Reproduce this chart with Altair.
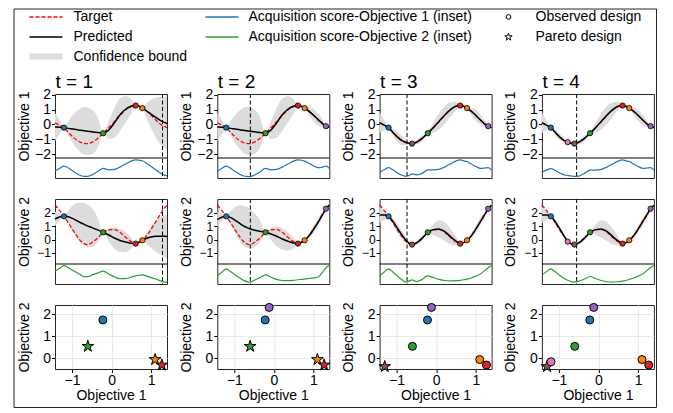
import altair as alt
import pandas as pd

FONT = "Liberation Sans"

# ---------------- data ----------------
design_x = [0.00, 0.04, 0.08, 0.12, 0.16, 0.20, 0.23, 0.26, 0.29, 0.33, 0.38, 0.43, 0.48,
            0.53, 0.58, 0.63, 0.68, 0.72, 0.75, 0.78, 0.82, 0.86, 0.90, 0.94, 0.97, 1.00]

target_obj1 = [0.10, -0.05, -0.22, -0.55, -0.85, -1.10, -1.21, -1.28, -1.30, -1.20, -0.95, -0.60, -0.22,
               0.18, 0.60, 0.97, 1.22, 1.28, 1.22, 1.10, 0.88, 0.60, 0.30, 0.02, -0.12, -0.22]
target_obj2 = [2.60, 2.20, 1.75, 1.25, 0.72, 0.22, -0.10, -0.30, -0.37, -0.22, 0.12, 0.52, 0.74,
               0.76, 0.55, 0.18, -0.15, -0.30, -0.22, -0.05, 0.30, 0.80, 1.35, 1.90, 2.30, 2.58]

pred_obj1_t1 = [-0.18, -0.19, -0.22, -0.27, -0.32, -0.37, -0.40, -0.43, -0.46, -0.50, -0.55, -0.60, -0.38,
                0.10, 0.65, 1.02, 1.22, 1.27, 1.22, 1.10, 0.90, 0.68, 0.47, 0.27, 0.15, 0.06]
band_obj1_t1 = [0.95, 0.50, 0.03, 0.50, 0.95, 1.30, 1.50, 1.60, 1.60, 1.50, 1.05, 0.03, 0.60,
                1.00, 1.10, 0.90, 0.50, 0.03, 0.10, 0.03, 0.55, 1.00, 1.35, 1.60, 1.70, 1.80]
pred_obj1_t2 = [-0.18, -0.19, -0.22, -0.27, -0.32, -0.37, -0.40, -0.43, -0.46, -0.50, -0.55, -0.60, -0.38,
                0.10, 0.65, 1.02, 1.22, 1.27, 1.22, 1.10, 0.88, 0.62, 0.33, 0.05, -0.12, -0.20]
band_obj1_t2 = [0.95, 0.50, 0.03, 0.50, 0.95, 1.30, 1.50, 1.60, 1.60, 1.50, 1.05, 0.03, 0.60,
                1.00, 1.10, 0.90, 0.50, 0.03, 0.10, 0.03, 0.30, 0.42, 0.40, 0.25, 0.03, 0.12]
pred_obj1_t3 = [0.12, -0.05, -0.22, -0.55, -0.86, -1.10, -1.21, -1.28, -1.30, -1.20, -0.95, -0.60, -0.22,
                0.20, 0.62, 0.98, 1.22, 1.27, 1.22, 1.10, 0.88, 0.60, 0.30, 0.02, -0.12, -0.22]
band_obj1_t3 = [0.70, 0.35, 0.03, 0.25, 0.35, 0.30, 0.20, 0.10, 0.03, 0.15, 0.20, 0.03, 0.35,
                0.55, 0.60, 0.50, 0.30, 0.03, 0.08, 0.03, 0.25, 0.38, 0.35, 0.20, 0.03, 0.12]
pred_obj1_t4 = [0.12, -0.05, -0.22, -0.55, -0.86, -1.10, -1.21, -1.28, -1.30, -1.20, -0.95, -0.60, -0.22,
                0.20, 0.62, 0.98, 1.22, 1.27, 1.22, 1.10, 0.88, 0.60, 0.30, 0.02, -0.12, -0.22]
band_obj1_t4 = [0.70, 0.35, 0.03, 0.20, 0.22, 0.10, 0.03, 0.03, 0.03, 0.12, 0.18, 0.03, 0.35,
                0.55, 0.60, 0.50, 0.30, 0.03, 0.08, 0.03, 0.25, 0.38, 0.35, 0.20, 0.03, 0.12]

pred_obj2_t1 = [1.55, 1.70, 1.78, 1.72, 1.58, 1.40, 1.27, 1.15, 1.03, 0.90, 0.73, 0.55, 0.35,
                0.12, -0.06, -0.18, -0.27, -0.30, -0.20, -0.05, 0.10, 0.20, 0.25, 0.26, 0.25, 0.24]
band_obj2_t1 = [0.55, 0.30, 0.03, 0.50, 1.00, 1.35, 1.50, 1.60, 1.60, 1.45, 0.95, 0.03, 0.50,
                0.80, 0.85, 0.75, 0.40, 0.03, 0.08, 0.03, 0.45, 0.85, 1.15, 1.40, 1.55, 1.65]
pred_obj2_t2 = [1.50, 1.68, 1.76, 1.65, 1.45, 1.22, 1.05, 0.92, 0.82, 0.72, 0.63, 0.55, 0.42,
                0.25, 0.05, -0.12, -0.25, -0.30, -0.20, -0.05, 0.30, 0.78, 1.30, 1.88, 2.30, 2.60]
band_obj2_t2 = [0.55, 0.30, 0.03, 0.50, 1.00, 1.35, 1.50, 1.55, 1.50, 1.30, 0.85, 0.03, 0.45,
                0.75, 0.80, 0.70, 0.40, 0.03, 0.08, 0.03, 0.20, 0.28, 0.28, 0.18, 0.03, 0.10]
pred_obj2_t3 = [1.85, 1.85, 1.75, 1.35, 0.85, 0.35, 0.02, -0.25, -0.37, -0.25, 0.10, 0.52, 0.75,
                0.80, 0.62, 0.25, -0.10, -0.30, -0.22, -0.05, 0.30, 0.80, 1.35, 1.90, 2.30, 2.58]
band_obj2_t3 = [0.60, 0.35, 0.03, 0.25, 0.35, 0.30, 0.20, 0.10, 0.03, 0.15, 0.22, 0.03, 0.40,
                0.65, 0.70, 0.60, 0.35, 0.03, 0.08, 0.03, 0.20, 0.28, 0.28, 0.18, 0.03, 0.10]
pred_obj2_t4 = [1.85, 1.85, 1.75, 1.33, 0.80, 0.25, -0.12, -0.30, -0.38, -0.25, 0.10, 0.52, 0.75,
                0.80, 0.62, 0.25, -0.10, -0.30, -0.22, -0.05, 0.30, 0.80, 1.35, 1.90, 2.30, 2.58]
band_obj2_t4 = [0.60, 0.35, 0.03, 0.20, 0.20, 0.10, 0.03, 0.03, 0.03, 0.12, 0.20, 0.03, 0.40,
                0.65, 0.70, 0.60, 0.35, 0.03, 0.08, 0.03, 0.20, 0.28, 0.28, 0.18, 0.03, 0.10]

# acquisition scores (inset, relative 0..1)
acq_obj1_t1 = [0.34, 0.47, 0.60, 0.50, 0.32, 0.17, 0.08, 0.03, 0.03, 0.12, 0.30, 0.48, 0.40,
               0.42, 0.55, 0.72, 0.88, 0.95, 0.93, 0.90, 0.75, 0.58, 0.40, 0.22, 0.12, 0.06]
acq_obj1_t2 = [0.34, 0.47, 0.60, 0.48, 0.30, 0.15, 0.07, 0.03, 0.02, 0.10, 0.28, 0.48, 0.40,
               0.42, 0.55, 0.72, 0.88, 0.95, 0.93, 0.88, 0.75, 0.62, 0.52, 0.55, 0.60, 0.48]
acq_obj1_t3 = [0.26, 0.40, 0.52, 0.40, 0.22, 0.10, 0.04, 0.08, 0.17, 0.12, 0.20, 0.40, 0.40,
               0.42, 0.55, 0.72, 0.88, 0.95, 0.90, 0.86, 0.72, 0.58, 0.48, 0.50, 0.52, 0.38]
acq_obj1_t4 = [0.26, 0.38, 0.47, 0.36, 0.22, 0.12, 0.09, 0.06, 0.04, 0.05, 0.20, 0.38, 0.38,
               0.42, 0.55, 0.72, 0.88, 0.95, 0.90, 0.86, 0.72, 0.58, 0.48, 0.50, 0.52, 0.38]
acq_obj2_t1 = [0.66, 0.82, 0.97, 0.85, 0.70, 0.55, 0.45, 0.35, 0.35, 0.45, 0.55, 0.66, 0.50,
               0.35, 0.24, 0.24, 0.33, 0.40, 0.43, 0.45, 0.38, 0.30, 0.22, 0.12, 0.06, 0.03]
acq_obj2_t2 = [0.40, 0.60, 0.79, 0.62, 0.45, 0.28, 0.16, 0.08, 0.05, 0.15, 0.30, 0.45, 0.32,
               0.20, 0.14, 0.13, 0.15, 0.18, 0.20, 0.22, 0.25, 0.28, 0.33, 0.60, 0.85, 0.97]
acq_obj2_t3 = [0.40, 0.60, 0.79, 0.60, 0.38, 0.18, 0.06, 0.10, 0.17, 0.08, 0.20, 0.40, 0.30,
               0.20, 0.14, 0.12, 0.13, 0.15, 0.18, 0.22, 0.28, 0.38, 0.50, 0.70, 0.85, 0.97]
acq_obj2_t4 = [0.45, 0.62, 0.79, 0.62, 0.42, 0.25, 0.15, 0.08, 0.05, 0.10, 0.22, 0.36, 0.25,
               0.14, 0.07, 0.05, 0.07, 0.10, 0.14, 0.20, 0.28, 0.38, 0.50, 0.70, 0.85, 0.97]

# observed designs, in the order they were evaluated
obs_x = [0.08, 0.78, 0.43, 0.72, 0.97, 0.29, 0.23]
obs_obj1 = [-0.22, 1.10, -0.60, 1.27, -0.12, -1.30, -1.20]
obs_obj2 = [1.75, -0.05, 0.55, -0.30, 2.32, -0.37, -0.15]
obs_color = ["#1f77b4", "#ff7f0e", "#2ca02c", "#d62728", "#9467bd", "#8c564b", "#e377c2"]
obs_count = [4, 5, 6, 7]
pareto_t1 = [0, 1, 1, 1]
pareto_t2 = [0, 1, 1, 1, 0]
pareto_t3 = [0, 0, 0, 0, 0, 1]
pareto_t4 = [0, 0, 0, 0, 0, 1, 0]
next_x = [0.96, 0.295, 0.245, 0.31]
steps = ["t = 1", "t = 2", "t = 3", "t = 4"]

preds1 = [pred_obj1_t1, pred_obj1_t2, pred_obj1_t3, pred_obj1_t4]
bands1 = [band_obj1_t1, band_obj1_t2, band_obj1_t3, band_obj1_t4]
preds2 = [pred_obj2_t1, pred_obj2_t2, pred_obj2_t3, pred_obj2_t4]
bands2 = [band_obj2_t1, band_obj2_t2, band_obj2_t3, band_obj2_t4]
acqs1 = [acq_obj1_t1, acq_obj1_t2, acq_obj1_t3, acq_obj1_t4]
acqs2 = [acq_obj2_t1, acq_obj2_t2, acq_obj2_t3, acq_obj2_t4]
paretos = [pareto_t1, pareto_t2, pareto_t3, pareto_t4]

STAR = ("M0,-1L0.2245,-0.309L0.9511,-0.309L0.3633,0.118L0.5878,0.809L0,0.382"
        "L-0.5878,0.809L-0.3633,0.118L-0.9511,-0.309L-0.2245,-0.309Z")

W = 112
H_INSET = 20
FRAME = "#262626"
ONE = pd.DataFrame({"k": [0]})


def ytitle_axis(values, title, ty, lsize=14):
    return alt.Axis(values=values, title=title, titleX=-24, titleY=ty, titleAngle=-90,
                    titleAlign="center", titleBaseline="bottom", labelFontSize=lsize)


def text_at(label, x, y, size=14):
    return alt.Chart(pd.DataFrame({"label": [label]})).mark_text(
        align="left", baseline="alphabetic" if size > 15 else "middle", fontSize=size, font=FONT,
        color="black").encode(x=alt.value(x), y=alt.value(y), text="label:N")


def leg_rule(x1, x2, y, color, width, dash=None):
    kw = dict(color=color, strokeWidth=width)
    if dash:
        kw["strokeDash"] = dash
    return alt.Chart(ONE).mark_rule(**kw).encode(x=alt.value(x1), x2=alt.value(x2), y=alt.value(y))


def legend_and_border():
    r1, r2, r3 = -77, -57, -37.5
    L, R, T, B = -41, 601.5, -85, 313.5
    return [
        leg_rule(-25.5, 7.5, r1, "red", 1.3, [4, 2]), text_at("Target", 18.5, r1),
        leg_rule(-25.5, 7.5, r2, "black", 1.5), text_at("Predicted", 18.5, r2),
        leg_rule(-25.5, 7.5, r3, "#dcdcdc", 6), text_at("Confidence bound", 18.5, r3),
        leg_rule(150.5, 183.5, r1, "#1f77b4", 1.5),
        text_at("Acquisition score-Objective 1 (inset)", 193.5, r1),
        leg_rule(150.5, 183.5, r2, "#2ca02c", 1.5),
        text_at("Acquisition score-Objective 2 (inset)", 193.5, r2),
        alt.Chart(ONE).mark_point(shape="circle", filled=False, size=22, color="black",
                                  strokeWidth=1, opacity=1).encode(
            x=alt.value(453.5), y=alt.value(r1)),
        text_at("Observed design", 480.5, r1),
        alt.Chart(ONE).mark_point(shape=STAR, filled=False, size=60, color="black",
                                  strokeWidth=1, opacity=1).encode(
            x=alt.value(453.5), y=alt.value(r2)),
        text_at("Pareto design", 480.5, r2),
        # outer figure frame
        leg_rule(L, R, T, "#262626", 1), leg_rule(L, R, B, "#262626", 1),
        alt.Chart(ONE).mark_rule(color="#262626", strokeWidth=1).encode(
            x=alt.value(L), y=alt.value(T), y2=alt.value(B)),
        alt.Chart(ONE).mark_rule(color="#262626", strokeWidth=1).encode(
            x=alt.value(R), y=alt.value(T), y2=alt.value(B)),
    ]


def block(i, obj):
    target = target_obj1 if obj == 1 else target_obj2
    pred = (preds1 if obj == 1 else preds2)[i]
    band = (bands1 if obj == 1 else bands2)[i]
    acq = (acqs1 if obj == 1 else acqs2)[i]
    hm = 64 if obj == 1 else 65
    dom = [-2.27, 2.05] if obj == 1 else [-1.83, 3.05]
    ticks = [-2, -1, 0, 1, 2] if obj == 1 else [-1, 0, 1, 2]
    lsize = 14 if obj == 1 else 12
    ymain = alt.Scale(domain=dom, range=[hm, 0], nice=False, zero=False)
    yins = alt.Scale(domain=[0, 1], range=[hm + H_INSET - 1, hm + 1], nice=False, zero=False)
    xs = alt.Scale(domain=[0, 1], nice=False, zero=False)
    df = pd.DataFrame({"x": design_x, "target": target, "pred": pred,
                       "lo": [p - b for p, b in zip(pred, band)],
                       "hi": [p + b for p, b in zip(pred, band)], "acq": acq})
    n = obs_count[i]
    pts = pd.DataFrame({"x": obs_x[:n], "f": (obs_obj1 if obj == 1 else obs_obj2)[:n],
                        "color": obs_color[:n]})
    X = alt.X("x:Q", scale=xs, axis=None)
    base = alt.Chart(df)
    layers = [
        base.mark_area(color="#dcdcdc", interpolate="monotone").encode(
            x=X, y=alt.Y("lo:Q", scale=ymain, axis=None), y2="hi:Q"),
        base.mark_line(color="red", strokeDash=[4, 2], strokeWidth=1.3, interpolate="monotone").encode(
            x=X, y=alt.Y("target:Q", scale=ymain, axis=None)),
        base.mark_line(color="black", strokeWidth=1.5, interpolate="monotone").encode(
            x=X, y=alt.Y("pred:Q", scale=ymain,
                         axis=ytitle_axis(ticks, "Objective %d" % obj, hm / 2, lsize))),
        base.mark_line(color="#1f77b4" if obj == 1 else "#2ca02c", strokeWidth=1.2,
                       interpolate="monotone").encode(
            x=X, y=alt.Y("acq:Q", scale=yins, axis=None)),
        alt.Chart(ONE).mark_rule(color="black", strokeWidth=1).encode(
            y=alt.value(hm), x=alt.value(0), x2=alt.value(W)),
        alt.Chart(pd.DataFrame({"nx": [next_x[i]]})).mark_rule(
            color="black", strokeDash=[4, 2.5], strokeWidth=1).encode(
            x=alt.X("nx:Q", scale=xs, axis=None)),
        alt.Chart(pts).mark_point(shape="circle", filled=True, size=28, stroke="black",
                                  strokeWidth=0.8, opacity=1).encode(
            x=X, y=alt.Y("f:Q", scale=ymain, axis=None),
            fill=alt.Fill("color:N", scale=None)),
    ]
    if obj == 1:
        layers.append(text_at(steps[i], 0.5, -6, 19))
    if i == 0 and obj == 1:
        layers += legend_and_border()
    return alt.layer(*layers).resolve_scale(y="independent").properties(width=W, height=hm + H_INSET)


def scatter(i):
    n = obs_count[i]
    par = paretos[i]
    sdf = pd.DataFrame({"f1": obs_obj1[:n], "f2": obs_obj2[:n], "color": obs_color[:n],
                        "shape": [STAR if p else "circle" for p in par],
                        "sz": [150 if p else 64 for p in par]})
    xs = alt.Scale(domain=[-1.43, 1.40], nice=False, zero=False)
    ys = alt.Scale(domain=[-0.48, 2.43], nice=False, zero=False)
    return alt.Chart(sdf).mark_point(filled=True, stroke="black", strokeWidth=1, opacity=1).encode(
        x=alt.X("f1:Q", scale=xs, axis=alt.Axis(values=[-1, 0, 1], title="Objective 1", grid=True,
                                               gridColor="#e8e8e8", titlePadding=1)),
        y=alt.Y("f2:Q", scale=ys, axis=alt.Axis(values=[0, 1, 2], title="Objective 2", grid=True,
                                               gridColor="#e8e8e8", titleX=-24, titleY=32,
                                               titleAngle=-90, titleAlign="center",
                                               titleBaseline="bottom")),
        fill=alt.Fill("color:N", scale=None),
        shape=alt.Shape("shape:N", scale=None),
        size=alt.Size("sz:Q", scale=None),
    ).properties(width=W, height=64)


cells = ([block(i, 1) for i in range(4)] + [block(i, 2) for i in range(4)]
         + [scatter(i) for i in range(4)])

chart = alt.concat(*cells, columns=4, spacing={"row": 21, "column": 50.3}, bounds="flush").properties(
    padding={"left": 5, "top": 0, "right": 5, "bottom": 0}
).configure(font=FONT).configure_view(stroke=FRAME, strokeWidth=1).configure_axis(
    labelFont=FONT, titleFont=FONT, labelFontSize=14, titleFontSize=14, labelColor="black",
    titleColor="black", tickColor="black", tickSize=3.5, tickWidth=1, labelPadding=1,
    domain=False, titleFontWeight="normal", labelOverlap=False, labelFlush=False
)

chart.save("out.html", embed_options={"renderer": "svg", "actions": False})
